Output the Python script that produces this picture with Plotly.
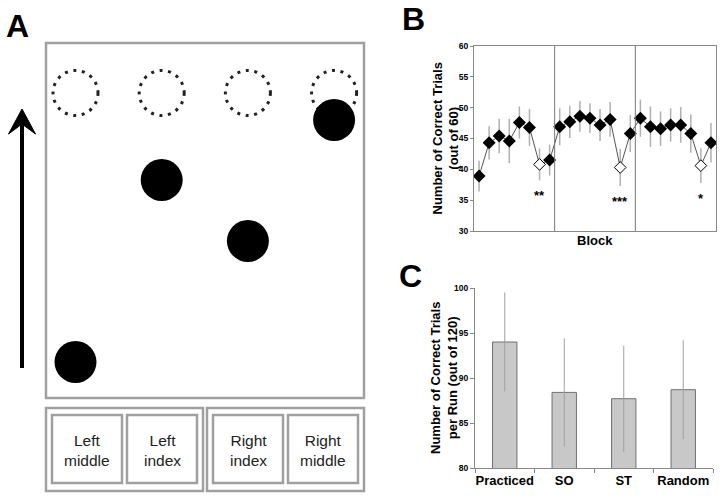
import plotly.graph_objects as go

W, H = 723, 504

# ---------------- Panel A data (schematic) ----------------
finger_labels = ["Left<br>middle", "Left<br>index", "Right<br>index", "Right<br>middle"]
note_lanes = [3, 1, 2, 0]          # lane of each falling note
note_rows = [120, 180, 241, 362]   # vertical position of each note (px from top)

# ---------------- Panel B data ----------------
block_idx = list(range(1, 25))
correct_trials = [38.9, 44.3, 45.4, 44.6, 47.6, 46.8, 40.8, 41.5,
                  46.9, 47.7, 48.6, 48.3, 47.2, 48.1, 40.3, 45.8,
                  48.3, 46.9, 46.6, 47.2, 47.2, 45.8, 40.6, 44.3]
correct_err = [2.5, 2.7, 2.8, 3.6, 2.6, 3.0, 2.6, 2.5,
               3.0, 2.6, 2.5, 2.4, 2.6, 2.8, 3.0, 3.0,
               3.0, 3.3, 2.8, 2.7, 2.9, 3.1, 2.8, 3.2]
probe_idx = [7, 15, 23]            # open (probe) blocks
probe_sig = ["**", "***", "*"]
sig_y = [35.8, 34.8, 35.3]
block_size = 8
b_yticks = [30, 35, 40, 45, 50, 55, 60]

# ---------------- Panel C data ----------------
seq_types = ["Practiced", "SO", "ST", "Random"]
run_correct = [94.0, 88.4, 87.7, 88.7]
run_err = [5.5, 6.0, 5.9, 5.5]
c_yticks = [80, 85, 90, 95, 100]

# ---------------- figure ----------------
fig = go.Figure()

def px_x(p):
    return p / W

def px_y(p):
    return 1 - p / H

# Panel A axes in pixel coordinates
lane_x0, lane_dx = 75.5, 86.2
target_y = 93
fig.add_trace(go.Scatter(
    x=[lane_x0 + lane_dx * l for l in note_lanes], y=note_rows,
    mode="markers", marker=dict(size=42, color="black", line=dict(width=0)),
    xaxis="x", yaxis="y", showlegend=False, hoverinfo="skip"))

shapes = []
gray = "#a0a0a0"
# main playfield
shapes.append(dict(type="rect", xref="x", yref="y", x0=46, y0=43, x1=364, y1=398,
                   line=dict(color=gray, width=2.5)))
# target circles
for l in range(len(finger_labels)):
    cx = lane_x0 + lane_dx * l
    shapes.append(dict(type="circle", xref="x", yref="y", x0=cx - 22.5, x1=cx + 22.5,
                       y0=target_y - 22.5, y1=target_y + 22.5, layer="below",
                       line=dict(color="#222", width=3, dash="3px,5.6px")))
# arrow
shapes.append(dict(type="line", xref="x", yref="y", x0=22, x1=22, y0=368, y1=118,
                   line=dict(color="black", width=4)))
shapes.append(dict(type="path", xref="x", yref="y",
                   path="M 8.5,134 L 22,109 L 35.5,134 L 22,124 Z",
                   fillcolor="black", line=dict(color="black", width=1)))
# finger key groups
for g in range(2):
    gx0 = 46 + g * 161
    shapes.append(dict(type="rect", xref="x", yref="y", x0=gx0, x1=gx0 + 157, y0=408, y1=491,
                       line=dict(color=gray, width=2.5)))
annotations = []
for i, lab in enumerate(finger_labels):
    g, k = divmod(i, 2)
    bx0 = 46 + g * 161 + 6 + k * 75
    shapes.append(dict(type="rect", xref="x", yref="y", x0=bx0, x1=bx0 + 70, y0=415, y1=483,
                       line=dict(color=gray, width=2.5)))
    annotations.append(dict(xref="x", yref="y", x=bx0 + 35, y=450, text=lab, showarrow=False,
                            xanchor="center", yanchor="middle",
                            font=dict(family="Liberation Sans, Arial", size=15.5, color="#222")))

# Panel B
fig.add_trace(go.Scatter(
    x=block_idx, y=correct_trials, mode="lines",
    line=dict(color="#555", width=1),
    error_y=dict(type="data", array=correct_err, color="#b0b0b0", thickness=1.5, width=0),
    xaxis="x2", yaxis="y2", showlegend=False, hoverinfo="skip"))
filled_x = [b for b in block_idx if b not in probe_idx]
filled_y = [correct_trials[b - 1] for b in filled_x]
fig.add_trace(go.Scatter(
    x=filled_x, y=filled_y, mode="markers",
    marker=dict(symbol="diamond", size=10, color="black", line=dict(width=0)),
    xaxis="x2", yaxis="y2", showlegend=False, hoverinfo="skip"))
fig.add_trace(go.Scatter(
    x=probe_idx, y=[correct_trials[b - 1] for b in probe_idx], mode="markers",
    marker=dict(symbol="diamond", size=9, color="white", line=dict(color="black", width=1)),
    xaxis="x2", yaxis="y2", showlegend=False, hoverinfo="skip"))
n_blocks = len(block_idx) // block_size
for k in range(1, n_blocks):
    shapes.append(dict(type="line", xref="x2", yref="y2",
                       x0=k * block_size + 0.5, x1=k * block_size + 0.5,
                       y0=b_yticks[0], y1=b_yticks[-1], line=dict(color="#777", width=1)))
for b, s, sy in zip(probe_idx, probe_sig, sig_y):
    annotations.append(dict(xref="x2", yref="y2", x=b, y=sy, text=s, showarrow=False,
                            xanchor="center", yanchor="middle",
                            font=dict(family="Liberation Sans, Arial", size=13, color="black",
                                      weight="bold")))

# Panel C
fig.add_trace(go.Bar(
    x=seq_types, y=run_correct, width=0.41,
    marker=dict(color="#c8c8c8", line=dict(color="#707070", width=1)),
    error_y=dict(type="data", array=run_err, color="#a0a0a0", thickness=1, width=0),
    xaxis="x3", yaxis="y3", showlegend=False, hoverinfo="skip"))

tickfont = dict(family="Liberation Sans, Arial", size=8.5, color="black", weight="bold")
fig.update_layout(
    width=W, height=H, margin=dict(l=0, r=0, t=0, b=0, autoexpand=False),
    paper_bgcolor="white", plot_bgcolor="rgba(0,0,0,0)",
    xaxis=dict(domain=[0, 1], range=[0, W], visible=False, fixedrange=True, automargin=False),
    yaxis=dict(domain=[0, 1], range=[H, 0], visible=False, fixedrange=True, automargin=False),
    xaxis2=dict(domain=[px_x(474), px_x(716)], range=[0.5, 24.5], anchor="y2",
                showline=True, mirror=True, linecolor="#888", linewidth=1, automargin=False,
                showticklabels=False, ticks="", showgrid=False, zeroline=False),
    yaxis2=dict(domain=[px_y(231), px_y(46)], range=[30, 60], anchor="x2", automargin=False,
                tickvals=b_yticks, showline=True, mirror=True, linecolor="#888", linewidth=1,
                ticks="outside", ticklen=3, tickcolor="#888", tickfont=tickfont,
                showgrid=False, zeroline=False),
    xaxis3=dict(domain=[px_x(475), px_x(713)], anchor="y3", type="category", automargin=False,
                showline=True, linecolor="#888", linewidth=1, ticks="outside", ticklen=4,
                tickcolor="#888", tickson="boundaries", showgrid=False, tickangle=0,
                tickfont=dict(family="Liberation Sans, Arial", size=13, color="black",
                              weight="bold")),
    yaxis3=dict(domain=[px_y(468), px_y(288)], range=[80, 100], anchor="x3", automargin=False,
                tickvals=c_yticks, showline=True, linecolor="#888", linewidth=1,
                ticks="outside", ticklen=4, tickcolor="#888", tickfont=tickfont,
                showgrid=False, zeroline=False),
    shapes=shapes,
)

title_font = dict(family="Liberation Sans, Arial", size=13, color="black", weight="bold")
annotations += [
    dict(xref="paper", yref="paper", x=px_x(445), y=px_y(138.5), textangle=-90,
         xanchor="center", yanchor="middle",
         text="Number of Correct Trials<br>(out of 60)", showarrow=False, font=title_font),
    dict(xref="paper", yref="paper", x=px_x(595), y=px_y(240),
         xanchor="center", yanchor="middle",
         text="Block", showarrow=False,
         font=dict(family="Liberation Sans, Arial", size=13, color="black", weight="bold")),
    dict(xref="paper", yref="paper", x=px_x(444), y=px_y(378), textangle=-90,
         xanchor="center", yanchor="middle",
         text="Number of Correct Trials<br>per Run (out of 120)", showarrow=False,
         font=title_font),
]
panel_font = dict(family="Liberation Sans, Arial", size=32, color="black", weight="bold")
for lab, x, y in [("A", 4, 26), ("B", 400, 19), ("C", 397, 276)]:
    annotations.append(dict(xref="paper", yref="paper", x=px_x(x), y=px_y(y), xanchor="left",
                            yanchor="middle", text=lab, showarrow=False, font=panel_font))
fig.update_layout(annotations=annotations)

fig.write_html("out.html", config={"displayModeBar": False},
               post_script="document.body.style.margin='0';document.body.style.overflow='hidden';")
